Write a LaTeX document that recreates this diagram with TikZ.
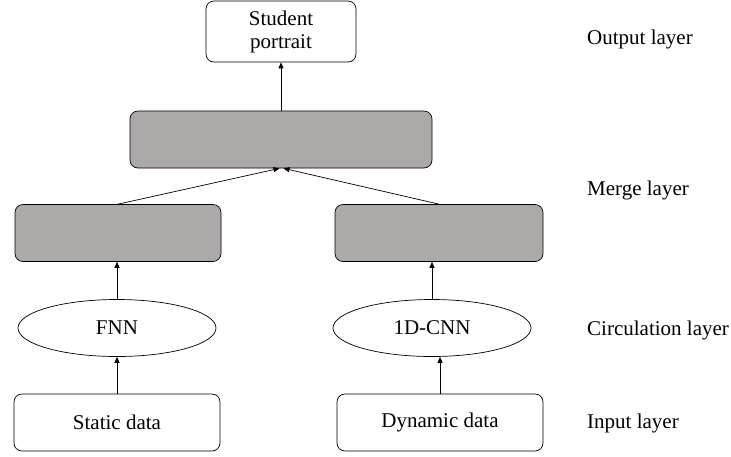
\documentclass[tikz,border=0pt]{standalone}
\usepackage{fontspec}
\setmainfont{Liberation Serif}
\usetikzlibrary{shapes.geometric,arrows.meta}

\begin{document}
\begin{tikzpicture}[x=1pt,y=-1pt]
% Colours
\definecolor{mergegray}{RGB}{173,169,169}

% Styles
\tikzset{
  txt/.style={font=\fontsize{21}{23}\selectfont},
  databox/.style={draw,txt,rounded corners=8pt,inner sep=0pt,line width=0.7pt,
    minimum width=206pt,minimum height=57pt},
  mergebox/.style={databox,fill=mergegray},
  netnode/.style={draw,txt,ellipse,inner sep=0pt,line width=0.7pt,
    minimum width=198pt,minimum height=57pt},
  layerlabel/.style={txt,anchor=west,inner sep=0pt},
  link/.style={-{Triangle[length=6pt,width=5pt]},line width=0.7pt}
}

\useasboundingbox (0,0) rectangle (731,456);

% Input layer
\node[databox] (static) at (117,422.5) {Static data};
\node[databox] (dynamic) at (440,422.5) {Dynamic data};

% Circulation layer
\node[netnode] (fnn) at (117,328) {FNN};
\node[netnode] (cnn) at (432,328) {1D-CNN};

% Merge layer
\node[mergebox] (mergeL) at (118,233) {};
\node[mergebox,minimum width=208pt] (mergeR) at (439,233) {};
\node[mergebox,minimum width=302pt] (merge) at (281,139.5) {};

% Output layer
\node[databox,minimum width=150pt,minimum height=61pt,align=center] (portrait) at (281,31.5) {Student\\portrait};

% Connectors
\draw[link] (static.north) -- (fnn.south);
\draw[link] (dynamic.north) -- (dynamic.north |- cnn.south);
\draw[link] (fnn.north) -- (fnn.north |- mergeL.south);
\draw[link] (cnn.north) -- (cnn.north |- mergeR.south);
\draw[link] (mergeL.north) -- ([xshift=-1.5pt]merge.south);
\draw[link] (mergeR.north) -- ([xshift=2.5pt]merge.south);
\draw[link] (merge.north) -- (portrait.south);

% Layer names
\node[layerlabel] (outL) at (587,39) {Output layer};
\node[layerlabel] (mergeLbl) at (587,190) {Merge layer};
\node[layerlabel] (circL) at (587,330) {Circulation layer};
\node[layerlabel] (inL) at (587,423) {Input layer};

\end{tikzpicture}
\end{document}
